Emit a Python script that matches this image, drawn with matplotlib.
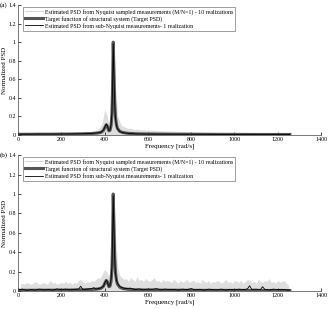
import numpy as np
import matplotlib
matplotlib.use('Agg')
import matplotlib.pyplot as plt

plt.rcParams['font.family'] = ['Liberation Serif', 'DejaVu Serif']

# target PSD (same in both panels)
target_f = [0, 50, 100, 150, 200, 250, 300, 340, 370, 385, 395, 402, 408, 412, 416, 420,
            425, 430, 434, 437, 440, 443, 446, 450, 455, 460, 470, 485, 510, 550, 600,
            700, 800, 900, 1000, 1100, 1200, 1256]
target_p = [0.008, 0.008, 0.009, 0.009, 0.010, 0.011, 0.013, 0.016, 0.022, 0.03, 0.05,
            0.085, 0.11, 0.10, 0.07, 0.045, 0.05, 0.10, 0.22, 0.5, 1.0, 0.72, 0.4, 0.2,
            0.11, 0.07, 0.04, 0.026, 0.018, 0.013, 0.011, 0.009, 0.008, 0.007, 0.007,
            0.006, 0.006, 0.006]

# (a) sub-Nyquist estimate, 1 realization
sub_a_p = [0.009, 0.009, 0.010, 0.010, 0.011, 0.012, 0.014, 0.017, 0.024, 0.033, 0.055,
           0.09, 0.12, 0.105, 0.075, 0.05, 0.055, 0.11, 0.24, 0.52, 0.98, 0.70, 0.38, 0.19,
           0.10, 0.065, 0.038, 0.025, 0.017, 0.012, 0.010, 0.009, 0.008, 0.007, 0.006,
           0.006, 0.005, 0.005]

# Nyquist sampled realizations (upper envelope of 10 realizations), 10..1250 step 10
gray_a = [0.015, 0.015, 0.014, 0.016, 0.015, 0.015, 0.016, 0.015, 0.017, 0.016,
          0.016, 0.017, 0.016, 0.018, 0.017, 0.018, 0.02, 0.018, 0.02, 0.025,
          0.02, 0.02, 0.022, 0.021, 0.023, 0.024, 0.025, 0.027, 0.028, 0.03,
          0.032, 0.035, 0.038, 0.04, 0.045, 0.05, 0.06, 0.09, 0.14, 0.27,
          0.22, 0.12, 0.25, 0.97, 0.55, 0.22, 0.14, 0.10, 0.09, 0.08,
          0.07, 0.075, 0.065, 0.06, 0.065, 0.06, 0.055, 0.06, 0.05, 0.055,
          0.05, 0.052, 0.048, 0.05, 0.045, 0.047, 0.044, 0.046, 0.042, 0.044,
          0.04, 0.042, 0.039, 0.041, 0.038, 0.04, 0.037, 0.038, 0.036, 0.037,
          0.035, 0.036, 0.034, 0.035, 0.033, 0.034, 0.032, 0.033, 0.031, 0.032,
          0.03, 0.031, 0.03, 0.029, 0.03, 0.028, 0.029, 0.027, 0.028, 0.027,
          0.026, 0.027, 0.026, 0.025, 0.026, 0.025, 0.024, 0.025, 0.024, 0.023,
          0.024, 0.023, 0.022, 0.023, 0.022, 0.021, 0.022, 0.021, 0.02, 0.021,
          0.02, 0.019, 0.02, 0.018, 0.015]

gray_b = [0.07, 0.08, 0.07, 0.09, 0.08, 0.07, 0.08, 0.10, 0.08, 0.07,
          0.08, 0.09, 0.07, 0.08, 0.11, 0.08, 0.09, 0.07, 0.08, 0.09,
          0.08, 0.10, 0.08, 0.09, 0.07, 0.09, 0.08, 0.11, 0.12, 0.09,
          0.08, 0.10, 0.09, 0.11, 0.10, 0.12, 0.14, 0.13, 0.18, 0.22,
          0.20, 0.15, 0.30, 0.95, 0.60, 0.25, 0.16, 0.14, 0.12, 0.13,
          0.10, 0.14, 0.12, 0.10, 0.15, 0.11, 0.12, 0.10, 0.13, 0.11,
          0.10, 0.12, 0.14, 0.10, 0.11, 0.09, 0.12, 0.10, 0.11, 0.10,
          0.09, 0.12, 0.10, 0.08, 0.11, 0.09, 0.10, 0.12, 0.09, 0.10,
          0.11, 0.09, 0.10, 0.08, 0.12, 0.10, 0.09, 0.11, 0.08, 0.10,
          0.09, 0.11, 0.10, 0.08, 0.10, 0.12, 0.09, 0.10, 0.08, 0.11,
          0.10, 0.09, 0.11, 0.08, 0.10, 0.12, 0.11, 0.09, 0.10, 0.08,
          0.12, 0.10, 0.09, 0.11, 0.10, 0.13, 0.09, 0.10, 0.08, 0.11,
          0.09, 0.10, 0.11, 0.08, 0.06]
gray_f = np.arange(10, 1251, 10)

# (b) sub-Nyquist estimate, noisier
sub_b_f = [0, 20, 40, 60, 80, 100, 120, 140, 160, 180, 200, 220, 240, 260, 280, 290, 300,
           320, 340, 350, 360, 380, 395, 402, 408, 412, 416, 420, 425, 430, 434, 437, 440,
           443, 446, 450, 455, 460, 470, 480, 500, 520, 540, 560, 580, 600, 620, 640, 660,
           680, 700, 720, 740, 760, 780, 800, 820, 840, 860, 880, 900, 920, 940, 960, 980,
           1000, 1020, 1040, 1060, 1070, 1080, 1100, 1120, 1130, 1140, 1160, 1180, 1200,
           1220, 1240, 1256]
sub_b_p = [0.01, 0.02, 0.008, 0.015, 0.01, 0.02, 0.012, 0.018, 0.01, 0.022, 0.014, 0.02,
           0.012, 0.018, 0.02, 0.05, 0.015, 0.02, 0.025, 0.035, 0.02, 0.03, 0.05, 0.09, 0.11,
           0.10, 0.07, 0.05, 0.06, 0.12, 0.25, 0.52, 0.98, 0.70, 0.38, 0.19, 0.11, 0.08,
           0.05, 0.035, 0.025, 0.03, 0.015, 0.022, 0.012, 0.02, 0.018, 0.025, 0.012, 0.02,
           0.015, 0.018, 0.01, 0.02, 0.015, 0.025, 0.012, 0.018, 0.01, 0.02, 0.015, 0.012,
           0.02, 0.01, 0.018, 0.012, 0.02, 0.015, 0.022, 0.055, 0.018, 0.02, 0.015, 0.045,
           0.018, 0.012, 0.02, 0.015, 0.018, 0.012, 0.01]

legend_labels = ['Estimated PSD from Nyquist sampled measurements (M/N=1) - 10 realizations',
                 'Target function of structural system (Target PSD)',
                 'Estimated PSD from sub-Nyquist measurements- 1 realization']

fig = plt.figure(figsize=(3.33, 3.09), dpi=100)
ax1 = fig.add_axes([0.054, 0.563, 0.910, 0.421])
ax2 = fig.add_axes([0.054, 0.058, 0.910, 0.440])

panels = [(ax1, gray_a, target_f, sub_a_p, '(a)'),
          (ax2, gray_b, sub_b_f, sub_b_p, '(b)')]
for ax, gray, sf, sp, tag in panels:
    ax.fill_between(gray_f, 0, gray, color='#dedede', lw=0)
    ax.plot([], [], color='#cfcfcf', lw=0.6, label=legend_labels[0])
    ax.plot(target_f, target_p, color='#555555', lw=2.2, label=legend_labels[1])
    ax.plot(sf, sp, color='black', lw=0.6, label=legend_labels[2])
    ax.set_xlim(0, 1400)
    ax.set_ylim(0, 1.4)
    ax.set_xticks(range(0, 1401, 200))
    ax.set_yticks([0, 0.2, 0.4, 0.6, 0.8, 1, 1.2, 1.4])
    ax.set_yticklabels(['0', '0.2', '0.4', '0.6', '0.8', '1', '1.2', '1.4'])
    ax.tick_params(direction='in', labelsize=4.3, length=2, width=0.5, pad=1.5)
    for s in ['top', 'right']:
        ax.spines[s].set_visible(False)
    for s in ['left', 'bottom']:
        ax.spines[s].set_linewidth(0.5)
        ax.spines[s].set_color('#444444')
    ax.set_xlabel('Frequency [rad/s]', fontsize=5, labelpad=1)
    ax.set_ylabel('Normalized PSD', fontsize=5, labelpad=1)
    leg = ax.legend(loc='upper left', fontsize=4.2, frameon=True, fancybox=False,
                    edgecolor='#555555', handlelength=3.0, handletextpad=0.4,
                    borderpad=0.35, labelspacing=0.2, bbox_to_anchor=(0.008, 1.01))
    leg.get_frame().set_linewidth(0.5)
    # panel tag at the very left edge of the figure
    x0 = ax.get_position().y1
    fig.text(0.0, x0, tag, fontsize=5, va='center', ha='left')

plt.savefig('out.png', dpi=100)
